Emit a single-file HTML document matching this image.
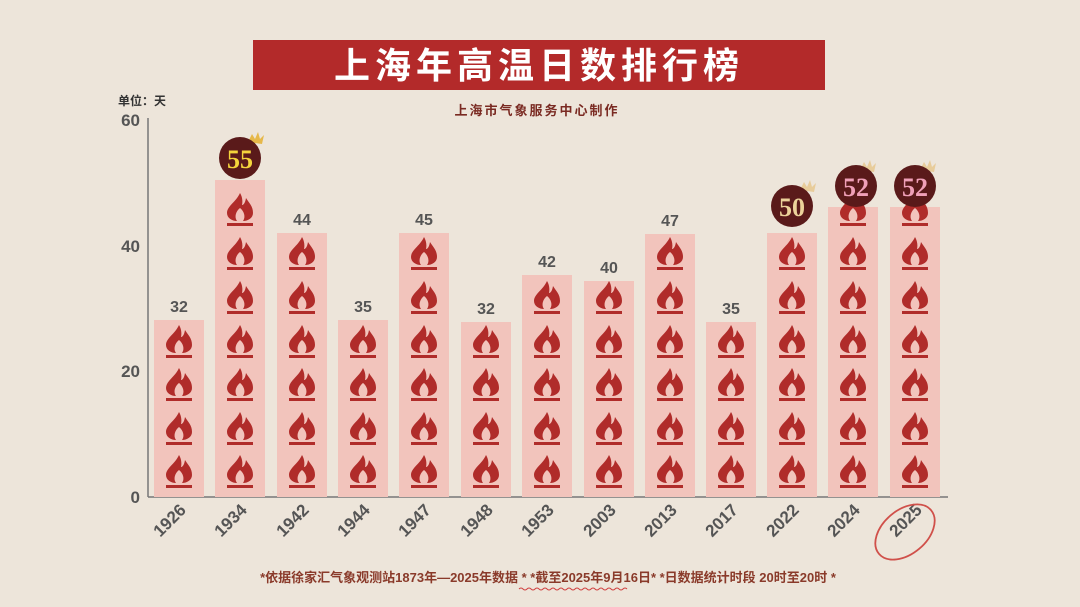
<!DOCTYPE html>
<html><head><meta charset="utf-8"><style>
body{margin:0;width:1080px;height:607px;overflow:hidden;background:#ede5da;}
svg{display:block}
</style></head><body>
<svg width="1080" height="607" viewBox="0 0 1080 607" xmlns="http://www.w3.org/2000/svg">
<defs>
<symbol id="f" overflow="visible"><path d="M0,-15 C-4,-6 -13,-2 -13,5 C-13,10 -8,13 -3,13 C-6,9 -4,3 0,0 C4,3 6,9 3,13 C8,13 13,10 13,5 C13,-2 9,-5 6,-10 C5,-4 3,-3 2,-3 C3,-7 2,-12 0,-15 Z" fill="#b02c2a"/><rect x="-13" y="15" width="26" height="3" fill="#b02c2a"/></symbol>
</defs>
<rect width="1080" height="607" fill="#ede5da"/>
<rect x="253" y="40" width="572" height="50" fill="#b32a2a"/>
<text x="539" y="78" text-anchor="middle" font-family="Liberation Sans,'Noto Sans CJK SC',sans-serif" font-size="36" font-weight="bold" fill="#fff" letter-spacing="5">上海年高温日数排行榜</text>
<text x="537" y="115" text-anchor="middle" font-family="Liberation Sans,'Noto Sans CJK SC',sans-serif" font-size="13" font-weight="bold" fill="#7a2a22" letter-spacing="2">上海市气象服务中心制作</text>
<text x="118" y="105" font-family="Liberation Sans,'Noto Sans CJK SC',sans-serif" font-size="12" font-weight="bold" fill="#333">单位：天</text>
<line x1="148" y1="118" x2="148" y2="497" stroke="#777" stroke-width="1.5"/>
<line x1="148" y1="497" x2="948" y2="497" stroke="#777" stroke-width="1.5"/>
<g font-family="Liberation Sans,sans-serif" font-size="17" font-weight="bold" fill="#555" text-anchor="end">
<text x="140" y="126">60</text><text x="140" y="252">40</text><text x="140" y="377">20</text><text x="140" y="503">0</text>
</g>
<g fill="#f2c4bc">
<rect x="154" y="320" width="50" height="177"/>
<rect x="215" y="180" width="50" height="317"/>
<rect x="277" y="233" width="50" height="264"/>
<rect x="338" y="320" width="50" height="177"/>
<rect x="399" y="233" width="50" height="264"/>
<rect x="461" y="322" width="50" height="175"/>
<rect x="522" y="275" width="50" height="222"/>
<rect x="584" y="281" width="50" height="216"/>
<rect x="645" y="234" width="50" height="263"/>
<rect x="706" y="322" width="50" height="175"/>
<rect x="767" y="233" width="50" height="264"/>
<rect x="828" y="207" width="50" height="290"/>
<rect x="890" y="207" width="50" height="290"/>
</g>
<g>
<use href="#f" x="179" y="470"/><use href="#f" x="179" y="427"/><use href="#f" x="179" y="383"/><use href="#f" x="179" y="340"/>
<use href="#f" x="240" y="470"/><use href="#f" x="240" y="427"/><use href="#f" x="240" y="383"/><use href="#f" x="240" y="340"/><use href="#f" x="240" y="296"/><use href="#f" x="240" y="252"/><use href="#f" x="240" y="208"/>
<use href="#f" x="302" y="470"/><use href="#f" x="302" y="427"/><use href="#f" x="302" y="383"/><use href="#f" x="302" y="340"/><use href="#f" x="302" y="296"/><use href="#f" x="302" y="252"/>
<use href="#f" x="363" y="470"/><use href="#f" x="363" y="427"/><use href="#f" x="363" y="383"/><use href="#f" x="363" y="340"/>
<use href="#f" x="424" y="470"/><use href="#f" x="424" y="427"/><use href="#f" x="424" y="383"/><use href="#f" x="424" y="340"/><use href="#f" x="424" y="296"/><use href="#f" x="424" y="252"/>
<use href="#f" x="486" y="470"/><use href="#f" x="486" y="427"/><use href="#f" x="486" y="383"/><use href="#f" x="486" y="340"/>
<use href="#f" x="547" y="470"/><use href="#f" x="547" y="427"/><use href="#f" x="547" y="383"/><use href="#f" x="547" y="340"/><use href="#f" x="547" y="296"/>
<use href="#f" x="609" y="470"/><use href="#f" x="609" y="427"/><use href="#f" x="609" y="383"/><use href="#f" x="609" y="340"/><use href="#f" x="609" y="296"/>
<use href="#f" x="670" y="470"/><use href="#f" x="670" y="427"/><use href="#f" x="670" y="383"/><use href="#f" x="670" y="340"/><use href="#f" x="670" y="296"/><use href="#f" x="670" y="252"/>
<use href="#f" x="731" y="470"/><use href="#f" x="731" y="427"/><use href="#f" x="731" y="383"/><use href="#f" x="731" y="340"/>
<use href="#f" x="792" y="470"/><use href="#f" x="792" y="427"/><use href="#f" x="792" y="383"/><use href="#f" x="792" y="340"/><use href="#f" x="792" y="296"/><use href="#f" x="792" y="252"/>
<use href="#f" x="853" y="470"/><use href="#f" x="853" y="427"/><use href="#f" x="853" y="383"/><use href="#f" x="853" y="340"/><use href="#f" x="853" y="296"/><use href="#f" x="853" y="252"/><use href="#f" x="853" y="208"/>
<use href="#f" x="915" y="470"/><use href="#f" x="915" y="427"/><use href="#f" x="915" y="383"/><use href="#f" x="915" y="340"/><use href="#f" x="915" y="296"/><use href="#f" x="915" y="252"/><use href="#f" x="915" y="208"/>
</g>
<g font-family="Liberation Sans,sans-serif" font-size="16" font-weight="bold" fill="#555" text-anchor="middle">
<text x="179" y="312">32</text><text x="302" y="225">44</text><text x="363" y="312">35</text><text x="424" y="225">45</text><text x="486" y="314">32</text><text x="547" y="267">42</text><text x="609" y="273">40</text><text x="670" y="226">47</text><text x="731" y="314">35</text>
</g>
<g>
<path d="M248,142 l4,-8 3,5 3,-7 2,7 4,-4 -2,9z" fill="#e6b84a"/>
<circle cx="240" cy="158" r="21" fill="#5a1a1a"/>
<text x="240" y="168" text-anchor="middle" font-family="Liberation Serif,serif" font-size="26" font-weight="bold" fill="#f4d43c">55</text>
<path d="M800,190 l4,-8 3,5 3,-7 2,7 4,-4 -2,9z" fill="#e8cc9a"/>
<circle cx="792" cy="206" r="21" fill="#5a1a1a"/>
<text x="792" y="216" text-anchor="middle" font-family="Liberation Serif,serif" font-size="26" font-weight="bold" fill="#ecd29a">50</text>
<path d="M860,170 l4,-8 3,5 3,-7 2,7 4,-4 -2,9z" fill="#e8cc9a"/>
<circle cx="856" cy="186" r="21" fill="#5a1a1a"/>
<text x="856" y="196" text-anchor="middle" font-family="Liberation Serif,serif" font-size="26" font-weight="bold" fill="#f0a0b8">52</text>
<path d="M920,170 l4,-8 3,5 3,-7 2,7 4,-4 -2,9z" fill="#e8cc9a"/>
<circle cx="915" cy="186" r="21" fill="#5a1a1a"/>
<text x="915" y="196" text-anchor="middle" font-family="Liberation Serif,serif" font-size="26" font-weight="bold" fill="#f0a0b8">52</text>
</g>
<g font-family="Liberation Sans,sans-serif" font-size="17" font-weight="bold" fill="#555" text-anchor="end">
<text transform="translate(187,511) rotate(-45)">1926</text>
<text transform="translate(248,511) rotate(-45)">1934</text>
<text transform="translate(310,511) rotate(-45)">1942</text>
<text transform="translate(371,511) rotate(-45)">1944</text>
<text transform="translate(432,511) rotate(-45)">1947</text>
<text transform="translate(494,511) rotate(-45)">1948</text>
<text transform="translate(555,511) rotate(-45)">1953</text>
<text transform="translate(617,511) rotate(-45)">2003</text>
<text transform="translate(678,511) rotate(-45)">2013</text>
<text transform="translate(739,511) rotate(-45)">2017</text>
<text transform="translate(800,511) rotate(-45)">2022</text>
<text transform="translate(861,511) rotate(-45)">2024</text>
<text transform="translate(923,511) rotate(-45)">2025</text>
</g>
<ellipse cx="905" cy="532" rx="34" ry="22" transform="rotate(-40 905 532)" fill="none" stroke="#d0504a" stroke-width="1.8"/>
<text x="548" y="582" text-anchor="middle" font-family="Liberation Sans,'Noto Sans CJK SC',sans-serif" font-size="13" font-weight="bold" fill="#8a3a2a">*依据徐家汇气象观测站1873年—2025年数据 *  *截至2025年9月16日*  *日数据统计时段 20时至20时 *</text>
<path d="M519,589 q2,-2 4,0 t4,0 t4,0 t4,0 t4,0 t4,0 t4,0 t4,0 t4,0 t4,0 t4,0 t4,0 t4,0 t4,0 t4,0 t4,0 t4,0 t4,0 t4,0 t4,0 t4,0 t4,0 t4,0 t4,0 t4,0 t4,0 t4,0" fill="none" stroke="#d04040" stroke-width="1"/>
</svg>
</body></html>
